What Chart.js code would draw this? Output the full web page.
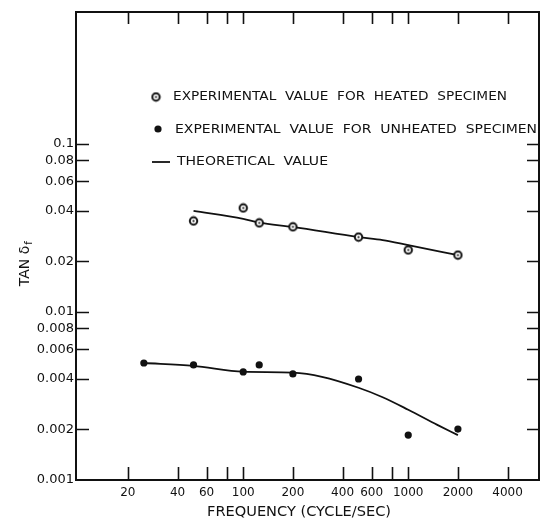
<!DOCTYPE html>
<html lang="en">
<head>
<meta charset="UTF-8">
<title>TAN delta vs frequency</title>
<script src="https://cdn.jsdelivr.net/npm/chart.js"></script>
<style>
  body { margin: 0; background: #fff; }
  #wrap { width: 540px; height: 519px; position: relative; }
</style>
</head>
<body>
<div id="wrap"><canvas id="chart"></canvas></div>
<script>
// experimental values, heated specimen
const heatedFreq = [50, 100, 125, 200, 500, 1000, 2000];
const heatedTan = [0.0348, 0.0416, 0.0339, 0.0321, 0.0279, 0.0234, 0.0218];

// experimental values, unheated specimen
const unheatedFreq = [25, 50, 100, 125, 200, 500, 1000, 2000];
const unheatedTan = [0.00497, 0.00484, 0.00440, 0.00484, 0.00428, 0.00399, 0.00185, 0.00201];

// theoretical curves
const theoHeatedFreq = [50, 100, 125, 200, 500, 700, 1000, 2000];
const theoHeatedTan = [0.0400, 0.0358, 0.0340, 0.0321, 0.0279, 0.0268, 0.0250, 0.0218];
const theoUnheatedFreq = [25, 50, 100, 200, 300, 500, 700, 1000, 1500, 2000];
const theoUnheatedTan = [0.00497, 0.00478, 0.00441, 0.00435, 0.00411, 0.00354, 0.00311, 0.00262, 0.00213, 0.00185];

// axis ticks
const xTicks = [20, 40, 60, 80, 100, 200, 400, 600, 800, 1000, 2000, 4000];
const xLabels = ['20', '40', '60', '', '100', '200', '400', '600', '', '1000', '2000', '4000'];
const yTicks = [0.001, 0.002, 0.004, 0.006, 0.008, 0.01, 0.02, 0.04, 0.06, 0.08, 0.1];
const yLabels = ['0.001', '0.002', '0.004', '0.006', '0.008', '0.01', '0.02', '0.04', '0.06', '0.08', '0.1'];

const legendLabels = [
  'EXPERIMENTAL  VALUE  FOR  HEATED  SPECIMEN',
  'EXPERIMENTAL  VALUE  FOR  UNHEATED  SPECIMEN',
  'THEORETICAL  VALUE'
];

function pts(xs, ys) {
  return xs.map((x, i) => ({ x: x, y: ys[i] }));
}

// open circle with a dot in the middle
function makeHeatedMark() {
  const c = document.createElement('canvas');
  c.width = 11; c.height = 11;
  const g = c.getContext('2d');
  g.beginPath();
  g.arc(5.5, 5.5, 3.7, 0, Math.PI * 2);
  g.fillStyle = '#fff';
  g.fill();
  g.lineWidth = 2;
  g.strokeStyle = '#111';
  g.stroke();
  g.beginPath();
  g.arc(5.5, 5.5, 1.1, 0, Math.PI * 2);
  g.fillStyle = '#111';
  g.fill();
  return c;
}
const heatedMark = makeHeatedMark();

const FONT = '"DejaVu Sans", sans-serif';

function fitText(ctx, text, x, y, width) {
  const w = ctx.measureText(text).width;
  const sx = Math.max(0.8, Math.min(1.2, width / w));
  ctx.save();
  ctx.translate(x, y);
  ctx.scale(sx, 1);
  ctx.fillText(text, 0, 0);
  ctx.restore();
}

const framePlugin = {
  id: 'frame',
  afterDraw(chart) {
    const ctx = chart.ctx;
    const a = chart.chartArea;
    const xs = chart.scales.x, ys = chart.scales.y;
    ctx.save();
    ctx.strokeStyle = '#111';
    ctx.lineWidth = 2;
    ctx.strokeRect(a.left, a.top, a.right - a.left, a.bottom - a.top);
    ctx.lineWidth = 1.6;
    ctx.beginPath();
    xTicks.forEach(v => {
      const px = Math.round(xs.getPixelForValue(v)) + 0.5;
      ctx.moveTo(px, a.bottom); ctx.lineTo(px, a.bottom - 13);
      ctx.moveTo(px, a.top); ctx.lineTo(px, a.top + 12);
    });
    yTicks.forEach(v => {
      if (v === 0.001) return;
      const py = Math.round(ys.getPixelForValue(v)) + 0.5;
      ctx.moveTo(a.left, py); ctx.lineTo(a.left + 13, py);
      ctx.moveTo(a.right, py); ctx.lineTo(a.right - 12, py);
    });
    ctx.stroke();

    // legend inside the plot
    ctx.fillStyle = '#111';
    ctx.font = '13px ' + FONT;
    ctx.textBaseline = 'middle';
    ctx.textAlign = 'left';
    ctx.drawImage(heatedMark, 156 - 5.5, 97 - 5.5);
    fitText(ctx, legendLabels[0], 173, 97, 334);
    ctx.beginPath();
    ctx.arc(158, 129, 3.6, 0, Math.PI * 2);
    ctx.fill();
    fitText(ctx, legendLabels[1], 175, 130, 362);
    ctx.lineWidth = 1.8;
    ctx.beginPath();
    ctx.moveTo(152, 162); ctx.lineTo(170, 162);
    ctx.stroke();
    fitText(ctx, legendLabels[2], 177, 162, 151);

    // axis titles
    ctx.font = '14px ' + FONT;
    fitText(ctx, 'FREQUENCY (CYCLE/SEC)', 207, 512, 184);
    ctx.save();
    ctx.translate(25, 262);
    ctx.rotate(-Math.PI / 2);
    const t = 'TAN δ';
    const tw = ctx.measureText(t).width;
    ctx.fillText(t, -tw / 2 - 4, 0);
    ctx.font = '10px ' + FONT;
    ctx.fillText('f', tw / 2 - 3, 4);
    ctx.restore();
    ctx.restore();
  }
};

new Chart(document.getElementById('chart'), {
  type: 'line',
  data: {
    datasets: [
      {
        label: legendLabels[0],
        data: pts(heatedFreq, heatedTan),
        showLine: false,
        pointStyle: heatedMark,
        pointRadius: 4
      },
      {
        label: legendLabels[1],
        data: pts(unheatedFreq, unheatedTan),
        showLine: false,
        pointStyle: 'circle',
        pointRadius: 3.6,
        pointBackgroundColor: '#111',
        pointBorderColor: '#111',
        pointBorderWidth: 0
      },
      {
        label: legendLabels[2],
        data: pts(theoHeatedFreq, theoHeatedTan),
        borderColor: '#111',
        borderWidth: 1.8,
        pointRadius: 0,
        cubicInterpolationMode: 'monotone'
      },
      {
        label: legendLabels[2],
        data: pts(theoUnheatedFreq, theoUnheatedTan),
        borderColor: '#111',
        borderWidth: 1.8,
        pointRadius: 0,
        cubicInterpolationMode: 'monotone'
      }
    ]
  },
  options: {
    responsive: true,
    maintainAspectRatio: false,
    animation: false,
    layout: { autoPadding: false, padding: { top: 12, right: 1, left: 0, bottom: 0 } },
    plugins: {
      legend: { display: false },
      tooltip: { enabled: false }
    },
    scales: {
      x: {
        type: 'logarithmic',
        min: 9.7,
        max: 6200,
        grid: { display: false, drawTicks: false, tickLength: 0 },
        border: { display: false },
        afterBuildTicks: s => { s.ticks = xTicks.map(v => ({ value: v })); },
        afterFit: s => { s.height = 39; s.paddingRight = 0; s.paddingLeft = 0; },
        ticks: {
          autoSkip: false,
          maxRotation: 0,
          padding: 6,
          color: '#111',
          font: { family: FONT, size: 12 },
          callback: (v, i) => xLabels[i]
        }
      },
      y: {
        type: 'logarithmic',
        min: 0.001,
        max: 0.61,
        grid: { display: false, drawTicks: false, tickLength: 0 },
        border: { display: false },
        afterBuildTicks: s => { s.ticks = yTicks.map(v => ({ value: v })); },
        afterFit: s => { s.width = 76; s.paddingTop = 0; s.paddingBottom = 0; },
        ticks: {
          autoSkip: false,
          padding: 2,
          color: '#111',
          font: { family: FONT, size: 13 },
          callback: (v, i) => yLabels[i]
        }
      }
    }
  },
  plugins: [framePlugin]
});
</script>
</body>
</html>
